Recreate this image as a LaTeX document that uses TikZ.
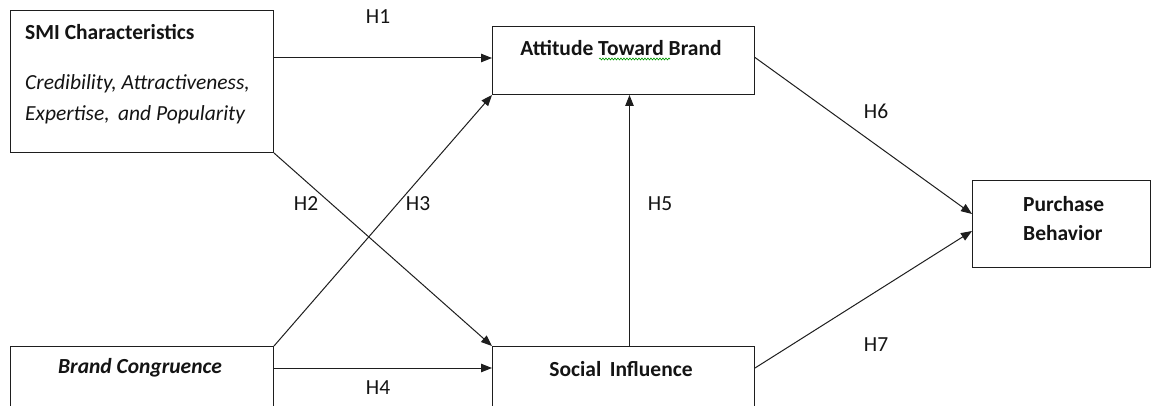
\documentclass[tikz,border=0pt]{standalone}
\usepackage{fontspec}
\setmainfont{Carlito}
\usetikzlibrary{arrows.meta,decorations.pathmorphing}
\definecolor{ln}{HTML}{1E1E1E}
\definecolor{tx}{HTML}{141414}
\tikzset{
  box/.style={draw=ln, line width=1pt, rectangle, anchor=north west, inner sep=0pt},
  arr/.style={draw=ln, line width=1pt, -{Triangle[length=11pt,width=8.5pt]}},
  lbl/.style={font=\fontsize{21.5}{25}\selectfont, text=tx, inner sep=0pt},
  ttl/.style={font=\fontsize{21.5}{25}\selectfont\bfseries, text=tx, inner sep=0pt},
}
\begin{document}
\begin{tikzpicture}[x=1pt,y=-1pt]
\clip (0,0) rectangle (1151,406);
\fill[white] (0,0) rectangle (1151,406);
% boxes
\node[box, minimum width=263pt, minimum height=142pt] (smi) at (10,10) {};
\node[box, minimum width=262pt, minimum height=68pt] (att) at (492,26) {};
\node[box, minimum width=263pt, minimum height=120pt] (bc) at (10,346) {};
\node[box, minimum width=262pt, minimum height=120pt] (soc) at (492,346) {};
\node[box, minimum width=178pt, minimum height=87pt] (pb) at (972,180) {};
% texts
\node[ttl, anchor=west] (smit) at (25,32) {SMI Characteristics};
\node[lbl, anchor=west] (smi1) at (25,84) {\itshape Credibility, Attractiveness,};
\node[lbl, anchor=west] (smi2) at (25,115) {\itshape Expertise,\, and Popularity};
\node[ttl] (attt) at (621,48) {Attitude Toward Brand};
\node[ttl, font=\fontsize{21.5}{25}\selectfont\bfseries\itshape] (bct) at (140,368) {Brand Congruence};
\node[ttl] (soct) at (621,369) {Social\, Influence};
\node[ttl, anchor=west] (pb1) at (1023,204) {Purchase};
\node[ttl, anchor=west] (pb2) at (1023,233) {Behavior};
% spell-check underline
\draw[green!60!black, line width=0.6pt, decorate, decoration={snake, amplitude=1pt, segment length=3pt}] (599,59) -- (670,59);
% connectors
\draw[arr] (smi.east |- 0,58) -- (att.west |- 0,58);
\draw[arr] (smi.south east) -- (soc.north west);
\draw[arr] (bc.north east) -- (att.south west);
\draw[arr] ([yshift=-22pt]bc.north east) -- ([yshift=-22pt]soc.north west);
\draw[arr] ([xshift=6pt]soc.north) -- ([xshift=6pt]att.south);
\draw[arr] ([yshift=3pt]att.east) -- ([yshift=10pt]pb.west);
\draw[arr] ([yshift=-22pt]soc.north east) -- ([yshift=-7pt]pb.west);
% hypothesis labels
\node[lbl] (h1) at (378,17) {H1};
\node[lbl] (h2) at (306,204) {H2};
\node[lbl] (h3) at (418,204) {H3};
\node[lbl] (h4) at (378,388) {H4};
\node[lbl] (h5) at (660,204) {H5};
\node[lbl] (h6) at (876,111) {H6};
\node[lbl] (h7) at (876,345) {H7};
\end{tikzpicture}
\end{document}
